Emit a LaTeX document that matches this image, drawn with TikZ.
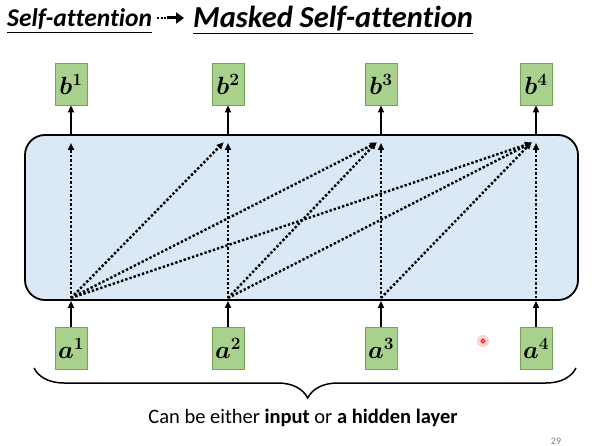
\documentclass[tikz,border=0pt]{standalone}
\usepackage{fontspec}
\setmainfont{Carlito}[Ligatures=NoCommon]
\usepackage{amsmath}
\usepackage{bm}
\usetikzlibrary{arrows.meta, decorations.pathreplacing, positioning}
\definecolor{leaf}{RGB}{169,209,142}
\definecolor{leafline}{RGB}{118,160,92}
\definecolor{frost}{RGB}{219,233,246}
\newcommand{\vecsym}[2]{$\bm{#1}^{\bm{#2}}$}

\begin{document}
\begin{tikzpicture}[x=1pt, y=-1pt,
      every node/.style={font=\fontsize{20.5}{24}\selectfont},
      cell/.style={draw=leafline, fill=leaf, line width=0.8pt, minimum width=32pt,
                   minimum height=42pt, inner sep=0pt, font=\fontsize{24}{28}\selectfont},
      flow/.style={line width=1.6pt, -{Triangle[length=7pt, width=6pt]}},
      att/.style={line width=2.4pt, dotted, -{Triangle[length=7pt, width=6pt]}},
      head/.style={font=\fontsize{30.5}{34}\selectfont\bfseries\itshape, inner sep=0pt, anchor=base west}]
    \useasboundingbox (0,0) rectangle (594,446);
    % title
    \node[head, font=\fontsize{25.5}{30}\selectfont\bfseries\itshape] (old) at (7,27) {Self-attention};
    \node[head] (new) at (193,28) {Masked Self-attention};
    \draw[line width=1pt] (old.south west |- 0,33) -- (old.south east |- 0,33);
    \draw[line width=1pt] (new.south west |- 0,34) -- (new.south east |- 0,34);
    \draw[line width=2pt, dash pattern=on 2pt off 1.5pt] (157,18) -- (167,18);
    \draw[line width=3pt, -{Triangle[length=8pt, width=11pt]}] (167,18) -- (184,18);
    % layer
    \node[draw, fill=frost, rounded corners=20pt, line width=1.8pt,
          minimum width=553pt, minimum height=165pt] (layer) at (301.5,217.5) {};
    \foreach \i/\x in {1/71, 2/228, 3/381, 4/536} {
      \node[cell] (b\i) at (\x,84) {\vecsym{b}{\i}};
      \node[cell] (a\i) at (\x,348) {\vecsym{a}{\i}};
      \coordinate (s\i) at (\x,298);
      \coordinate (t\i) at (\x,143);
      \draw[flow] (layer.north -| b\i) -- (b\i.south);
      \draw[flow] (a\i.north) -- (layer.south -| a\i);
      \draw[att] (s\i) -- (t\i);
    }
    % masked links
    \foreach \i/\j in {1/2, 1/3, 1/4, 2/3, 2/4, 3/4}
      \draw[att, shorten >=-1pt] (s\i) -- ([xshift=-5pt]t\j);
    % brace and caption
    \draw[line width=1.5pt, decorate, decoration={brace, amplitude=30pt, aspect=0.495}]
      (576,368) -- (34,368);
    \node (note) at (303,418) {Can be either \textbf{input} or \textbf{a hidden layer}};
    \node[text=gray, font=\fontsize{10}{11}\selectfont] (page) at (556,441) {29};
    % pointer
    \fill[red!18] (483,341) circle (6pt);
    \node[circle, draw=red, fill=white, line width=1pt, inner sep=1.3pt] (dot) at (483,341) {};
  \end{tikzpicture}
\end{document}
